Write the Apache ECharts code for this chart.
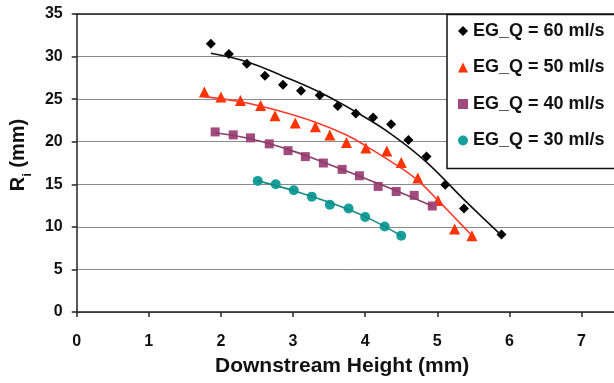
<!DOCTYPE html>
<html>
<head>
<meta charset="utf-8">
<script src="https://cdn.jsdelivr.net/npm/echarts@6/dist/echarts.min.js"></script>
<style>
  html, body { margin: 0; padding: 0; background: #fff; }
  #chart { width: 614px; height: 383px; }
</style>
</head>
<body>
<div id="chart"></div>
<script>
// Downstream height (mm) and radius Ri (mm) for each flow rate
const h60 = [1.86, 2.11, 2.36, 2.61, 2.86, 3.11, 3.37, 3.62, 3.87, 4.11, 4.36, 4.60, 4.85, 5.11, 5.37, 5.89];
const r60 = [31.5, 30.3, 29.15, 27.75, 26.7, 26.0, 25.45, 24.2, 23.3, 22.85, 22.05, 20.2, 18.25, 14.95, 12.15, 9.1];

const h50 = [1.77, 2.00, 2.27, 2.55, 2.75, 3.03, 3.31, 3.51, 3.74, 4.01, 4.30, 4.50, 4.73, 5.01, 5.24, 5.48];
const r50 = [25.85, 25.25, 24.85, 24.25, 23.05, 22.2, 21.75, 20.8, 19.9, 19.25, 18.9, 17.55, 15.75, 13.1, 9.75, 8.95];

const h40 = [1.92, 2.17, 2.41, 2.67, 2.93, 3.17, 3.42, 3.68, 3.92, 4.18, 4.43, 4.68, 4.93];
const r40 = [21.15, 20.8, 20.45, 19.75, 18.95, 18.25, 17.5, 16.75, 16.0, 14.75, 14.15, 13.7, 12.45];

const h30 = [2.51, 2.76, 3.01, 3.26, 3.51, 3.77, 4.00, 4.27, 4.50];
const r30 = [15.4, 15.0, 14.3, 13.55, 12.6, 12.15, 11.15, 10.05, 8.95];

// Trend curves through each set
const t60x = [1.86, 2.36, 2.86, 3.37, 3.87, 4.36, 4.85, 5.37, 5.89];
const t60y = [30.4, 29.4, 27.7, 25.8, 23.5, 20.9, 17.6, 13.2, 9.0];
const t50x = [1.76, 2.27, 2.75, 3.31, 3.74, 4.01, 4.49, 4.73, 5.00, 5.24, 5.49];
const t50y = [25.3, 24.7, 23.75, 22.3, 20.8, 19.5, 16.95, 15.45, 13.2, 11.1, 8.9];
const t40x = [1.92, 2.41, 2.93, 3.42, 3.92, 4.43, 4.93];
const t40y = [21.05, 20.35, 19.1, 17.6, 15.95, 14.25, 12.45];
const t30x = [2.51, 3.01, 3.51, 4.00, 4.50];
const t30y = [15.4, 14.25, 12.85, 11.2, 8.95];

const seriesNames = ['EG_Q = 60 ml/s', 'EG_Q = 50 ml/s', 'EG_Q = 40 ml/s', 'EG_Q = 30 ml/s'];
// x axis runs past the right edge of the page; only 0..7 fall inside
const xRange = [0, 7.45];
const yRange = [0, 35];

const zip = (xs, ys) => xs.map((x, i) => [x, ys[i]]);
const FONT = '"Liberation Sans", Arial, sans-serif';

function markers(name, xs, ys, symbol, size, color) {
  return {
    name: name, type: 'scatter', data: zip(xs, ys),
    symbol: symbol, symbolSize: size,
    itemStyle: { color: color, opacity: 1 }, z: 3
  };
}
function trend(xs, ys, color) {
  return {
    type: 'line', data: zip(xs, ys), smooth: 0.4, showSymbol: false,
    lineStyle: { color: color, width: 1.6 }, z: 4, silent: true
  };
}

const axisLineStyle = { color: '#222', width: 1.5 };

const chart = echarts.init(document.getElementById('chart'), null, { renderer: 'canvas' });
chart.setOption({
  animation: false,
  backgroundColor: '#fff',
  title: {
    text: 'Downstream Height (mm)',
    left: 215, top: 356, padding: 0,
    textStyle: { fontFamily: FONT, fontWeight: 'bold', fontSize: 21, color: '#111' }
  },
  // legend frame, open to the right beyond the page edge
  graphic: [{
    type: 'rect', z: 10,
    shape: { x: 447, y: 14.5, width: 220, height: 154 },
    style: { fill: '#fff', stroke: '#111', lineWidth: 1.5 }
  }],
  grid: { left: 72, top: 14, right: 0, height: 298, show: false },
  legend: {
    orient: 'vertical', left: 447, top: 14, z: 11,
    padding: [7, 10, 19, 11], itemGap: 16.5,
    itemWidth: 10, itemHeight: 10,
    textStyle: { fontFamily: FONT, fontWeight: 'bold', fontSize: 18, color: '#111', lineHeight: 20 },
    data: seriesNames
  },
  xAxis: [{
    type: 'value', min: xRange[0], max: xRange[1], interval: 1,
    axisLine: { show: true, lineStyle: axisLineStyle },
    axisTick: { show: true, length: 5, lineStyle: axisLineStyle },
    splitLine: { show: false },
    axisLabel: { margin: 22, showMaxLabel: false, fontFamily: FONT, fontWeight: 'bold', fontSize: 16, color: '#111' }
  }, {
    // top frame edge of the plot area
    type: 'value', position: 'top', min: xRange[0], max: xRange[1],
    axisLine: { show: true, lineStyle: axisLineStyle },
    axisTick: { show: false }, axisLabel: { show: false }, splitLine: { show: false }
  }],
  yAxis: {
    type: 'value', min: yRange[0], max: yRange[1], interval: 5,
    name: '{r|R}{s|i}{r| (mm)}',
    nameLocation: 'middle', nameRotate: 90, nameGap: 42,
    nameTextStyle: {
      padding: [0, 0, 0, 16],
      rich: {
        r: { fontFamily: FONT, fontWeight: 'bold', fontSize: 20, color: '#111' },
        s: { fontFamily: FONT, fontWeight: 'bold', fontSize: 13, color: '#111', verticalAlign: 'bottom', padding: [0, 0, -6, 0] }
      }
    },
    axisLine: { show: true, lineStyle: axisLineStyle },
    axisTick: { show: true, length: 5, lineStyle: axisLineStyle },
    splitLine: { show: true, lineStyle: { color: '#8a8a8a', width: 1 } },
    axisLabel: { margin: 14, fontFamily: FONT, fontWeight: 'bold', fontSize: 16, color: '#111' }
  },
  series: [
    markers(seriesNames[0], h60, r60, 'diamond', 10, '#000000'),
    markers(seriesNames[1], h50, r50, 'triangle', 11, '#ff3300'),
    markers(seriesNames[2], h40, r40, 'rect', 9, '#a24a7e'),
    markers(seriesNames[3], h30, r30, 'circle', 10, '#17a09b'),
    trend(t60x, t60y, '#111111'),
    trend(t50x, t50y, '#ff3a2a'),
    trend(t40x, t40y, '#8a3d68'),
    trend(t30x, t30y, '#138a85')
  ]
});
</script>
</body>
</html>
